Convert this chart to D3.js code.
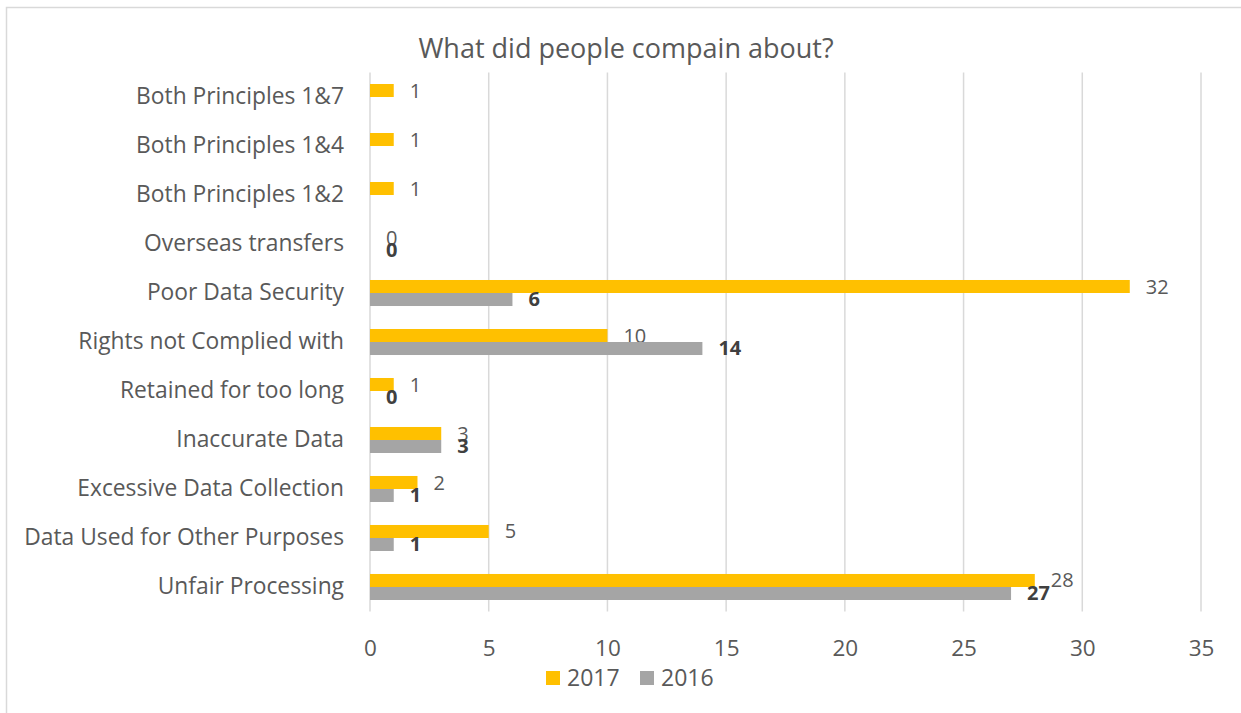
<!DOCTYPE html>
<html>
<head>
<meta charset="utf-8">
<script src="https://cdn.jsdelivr.net/npm/d3@7"></script>
<style>
  html, body { margin: 0; padding: 0; background: #fff; }
  svg { display: block; }
  text { font-family: "Open Sans", "Lato", sans-serif; }
</style>
</head>
<body>
<svg id="chart" width="1241" height="713"></svg>
<script>
const categories = [
  "Both Principles 1&7",
  "Both Principles 1&4",
  "Both Principles 1&2",
  "Overseas transfers",
  "Poor Data Security",
  "Rights not Complied with",
  "Retained for too long",
  "Inaccurate Data",
  "Excessive Data Collection",
  "Data Used for Other Purposes",
  "Unfair Processing"
];
const values2017 = [1, 1, 1, 0, 32, 10, 1, 3, 2, 5, 28];
const values2016 = [null, null, null, 0, 6, 14, 0, 3, 1, 1, 27];
const seriesNames = ["2017", "2016"];
const xTicks = [0, 5, 10, 15, 20, 25, 30, 35];
const title = "What did people compain about?";

const svg = d3.select("#chart");
const W = 1241, H = 713;
const FONT = "'Open Sans', Lato, sans-serif";
const plotTop = 72.5, plotBottom = 611.5;

// outer border
svg.append("rect")
  .attr("x", 6.5).attr("y", 7.5)
  .attr("width", W + 20).attr("height", H + 20)
  .attr("fill", "none").attr("stroke", "#D9D9D9").attr("stroke-width", 1.5);

svg.append("text")
  .attr("x", 626).attr("y", 58)
  .attr("text-anchor", "middle")
  .attr("font-size", 27)
  .attr("fill", "#595959")
  .text(title);

const x = d3.scaleLinear().domain([0, 35]).range([370, 1201]);
const y = d3.scaleBand().domain(categories).range([plotTop, plotBottom]).paddingInner(0.469).paddingOuter(0.2347);
const sub = d3.scaleBand().domain(seriesNames).range([0, y.bandwidth()]);

// gridlines
svg.append("g").selectAll("line")
  .data(xTicks)
  .join("line")
  .attr("x1", d => x(d)).attr("x2", d => x(d))
  .attr("y1", plotTop).attr("y2", plotBottom)
  .attr("stroke", "#D9D9D9").attr("stroke-width", 1.5);

// x tick labels
const xAxis = d3.axisBottom(x).tickValues(xTicks).tickSize(0).tickPadding(0);
const gx = svg.append("g").attr("transform", `translate(0,${plotBottom})`).call(xAxis);
gx.select(".domain").remove();
gx.selectAll("text")
  .attr("y", 44)
  .attr("dy", 0)
  .attr("font-size", 22.5)
  .attr("font-family", FONT)
  .attr("fill", "#595959");

// y category labels
const yAxis = d3.axisLeft(y).tickSize(0).tickPadding(26);
const gy = svg.append("g").attr("transform", "translate(370,0)").call(yAxis);
gy.select(".domain").remove();
gy.selectAll("text")
  .attr("font-size", 22.8)
  .attr("font-family", FONT)
  .attr("fill", "#595959");

const colors = { "2017": "#FFC000", "2016": "#A5A5A5" };
const data = categories.map((c, i) => ({ c, v2017: values2017[i], v2016: values2016[i] }));

const rows = svg.append("g").selectAll("g")
  .data(data).join("g")
  .attr("transform", d => `translate(0,${y(d.c)})`);

seriesNames.forEach(s => {
  const key = "v" + s;
  const drawn = rows.filter(d => d[key] !== null);
  drawn.append("rect")
    .attr("x", x(0))
    .attr("y", sub(s))
    .attr("width", d => x(d[key]) - x(0))
    .attr("height", sub.bandwidth())
    .attr("fill", colors[s]);
  drawn.append("text")
    .attr("x", d => x(d[key]) + 16)
    .attr("y", sub(s) + sub.bandwidth() / 2)
    .attr("dy", "0.35em")
    .attr("font-size", 20)
    .attr("font-weight", s === "2016" ? "bold" : "normal")
    .attr("fill", s === "2016" ? "#404040" : "#595959")
    .text(d => d[key]);
});

// legend
const legend = svg.append("g");
const legendItems = [
  { name: "2017", sx: 546, tx: 567 },
  { name: "2016", sx: 640, tx: 661 }
];
legendItems.forEach(it => {
  legend.append("rect")
    .attr("x", it.sx).attr("y", 671)
    .attr("width", 14).attr("height", 14)
    .attr("fill", colors[it.name]);
  legend.append("text")
    .attr("x", it.tx).attr("y", 678)
    .attr("dy", "0.35em")
    .attr("font-size", 23)
    .attr("fill", "#595959")
    .text(it.name);
});
</script>
</body>
</html>
